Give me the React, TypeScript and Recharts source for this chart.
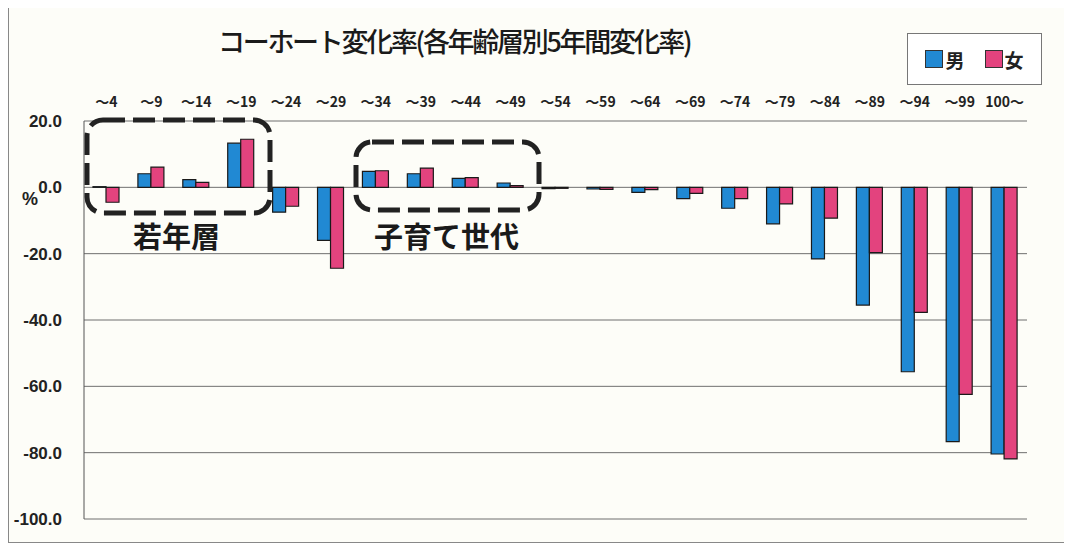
import { BarChart, Bar, XAxis, YAxis, CartesianGrid } from "recharts";

// 年齢層 (top labels)
const ageGroups = [
  "～4", "～9", "～14", "～19", "～24", "～29", "～34", "～39", "～44", "～49",
  "～54", "～59", "～64", "～69", "～74", "～79", "～84", "～89", "～94", "～99", "100～",
];

// 5年間変化率 (%)
const male = [
  0.2, 4.1, 2.3, 13.3, -7.5, -16.0, 4.8, 4.1, 2.7, 1.3,
  -0.4, -0.5, -1.5, -3.4, -6.3, -11.0, -21.6, -35.5, -55.6, -76.7, -80.4,
];
const female = [
  -4.5, 6.1, 1.5, 14.5, -5.7, -24.4, 5.0, 5.8, 2.9, 0.5,
  -0.3, -0.6, -0.7, -1.8, -3.4, -5.0, -9.3, -19.7, -37.7, -62.4, -81.9,
];

const yTicks = [20, 0, -20, -40, -60, -80, -100];

const series = [
  { key: "男", color: "#2189d3" },
  { key: "女", color: "#e3437e" },
];

const data = ageGroups.map((age, i) => ({ age, 男: male[i], 女: female[i] }));

const jp = "'Noto Sans CJK JP', sans-serif";

function LegendBox() {
  return (
    <div
      style={{
        position: "absolute",
        left: 899,
        top: 25,
        width: 135,
        height: 52,
        border: "1.5px solid #777",
        background: "#fff",
        display: "flex",
        alignItems: "center",
        justifyContent: "center",
        gap: 20,
        fontFamily: jp,
        fontWeight: 700,
        fontSize: 19,
        color: "#222",
        boxSizing: "border-box",
      }}
    >
      {series.map((s) => (
        <span key={s.key} style={{ display: "flex", alignItems: "center" }}>
          <span
            style={{
              width: 16,
              height: 16,
              background: s.color,
              border: "1px solid #333",
              marginRight: 2,
              display: "inline-block",
            }}
          />
          {s.key}
        </span>
      ))}
    </div>
  );
}

export default function App() {
  return (
    <div style={{ position: "relative", width: 1064, height: 535, background: "#fdfdf8" }}>
      {/* frame */}
      <div
        style={{
          position: "absolute",
          left: 0,
          top: -1,
          width: 1070,
          height: 534,
          borderLeft: "1px solid #888",
          borderTop: "1px solid #888",
          borderBottom: "1px solid #888",
        }}
      />
      <div
        style={{
          position: "absolute",
          left: 210,
          top: 13,
          fontFamily: jp,
          fontSize: 27,
          fontWeight: 500,
          letterSpacing: -2.3,
          color: "#1a1a1a",
          whiteSpace: "nowrap",
        }}
      >
        コーホート変化率(各年齢層別5年間変化率)
      </div>
      <div
        style={{
          position: "absolute",
          left: 14,
          top: 181,
          fontFamily: "'Liberation Sans', sans-serif",
          fontWeight: 700,
          fontSize: 18,
          color: "#222",
        }}
      >
        %
      </div>
      <LegendBox />

      <BarChart
        width={1064}
        height={535}
        data={data}
        margin={{ top: 88, right: 45, bottom: 24, left: 16 }}
        barGap={0}
        barSize={13}
        style={{ position: "absolute", left: 0, top: 0 }}
      >
        <CartesianGrid vertical={false} stroke="#6f6f6f" strokeWidth={1} />
        <XAxis
          dataKey="age"
          orientation="top"
          interval={0}
          height={25}
          axisLine={false}
          tickLine={false}
          tickMargin={8}
          tick={{ fontSize: 14, fontWeight: 700, fill: "#222", fontFamily: jp }}
        />
        <YAxis
          type="number"
          domain={[-100, 20]}
          ticks={yTicks}
          interval={0}
          width={60}
          tickLine={false}
          tickMargin={16}
          axisLine={{ stroke: "#555" }}
          tickFormatter={(v: number) => v.toFixed(1)}
          tick={{ fontSize: 17, fontWeight: 700, fill: "#222", fontFamily: "'Liberation Sans', sans-serif" }}
        />
        {series.map((s) => (
          <Bar
            key={s.key}
            dataKey={s.key}
            fill={s.color}
            stroke="#1a1a1a"
            strokeWidth={1.2}
            isAnimationActive={false}
          />
        ))}
      </BarChart>

      {/* dashed annotation boxes */}
      <svg
        width={1064}
        height={535}
        style={{ position: "absolute", left: 0, top: 0, pointerEvents: "none" }}
      >
        <rect x={79} y={112} width={183} height={93} rx={16} fill="none" stroke="#222" strokeWidth={5} strokeDasharray="22 8" />
        <rect x={348} y={134} width={183} height={68} rx={16} fill="none" stroke="#222" strokeWidth={5} strokeDasharray="22 8" />
      </svg>
      <div
        style={{
          position: "absolute",
          left: 125,
          top: 206,
          fontFamily: jp,
          fontSize: 29,
          fontWeight: 700,
          color: "#1a1a1a",
        }}
      >
        若年層
      </div>
      <div
        style={{
          position: "absolute",
          left: 366,
          top: 206,
          fontFamily: jp,
          fontSize: 29,
          fontWeight: 700,
          color: "#1a1a1a",
        }}
      >
        子育て世代
      </div>
    </div>
  );
}
